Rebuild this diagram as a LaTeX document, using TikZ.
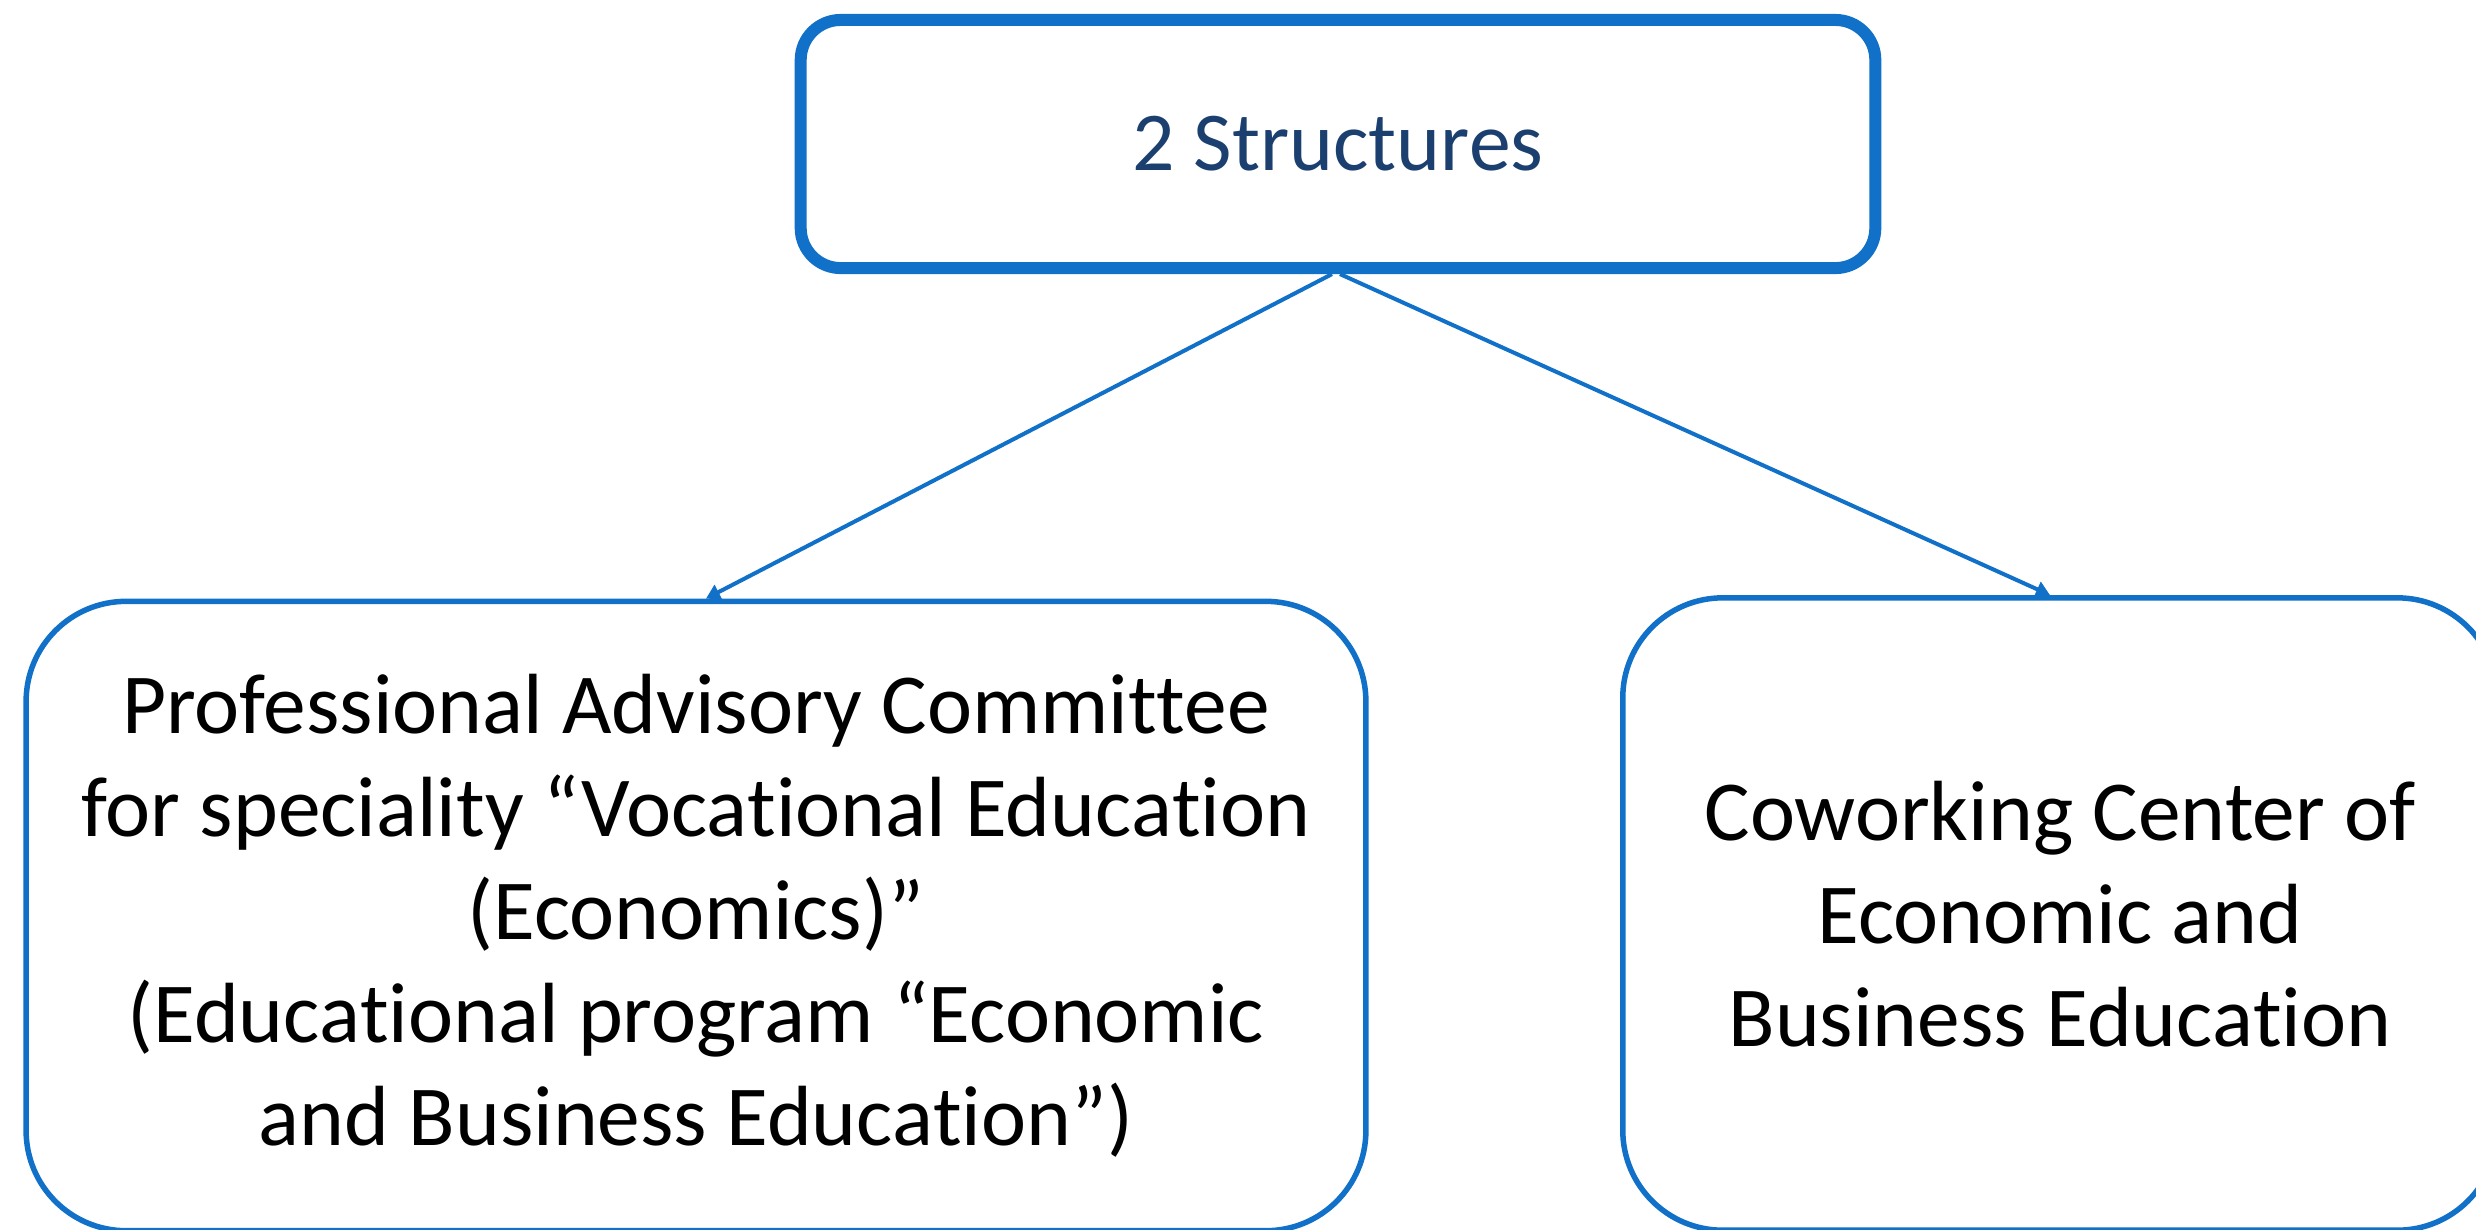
\documentclass[tikz,border=0pt]{standalone}
\usepackage{fontspec}
\setmainfont{Carlito}[Ligatures={NoCommon,NoContextual}]
\usetikzlibrary{arrows.meta,calc}
\definecolor{boxblue}{RGB}{17,112,199}
\definecolor{navy}{RGB}{27,64,111}
\newcommand\nolig{\kern0pt{}}
\tikzset{
  topbox/.style={draw=boxblue, line width=0.12cm, rounded corners=0.4cm, rectangle,
    minimum width=10.74cm, minimum height=2.48cm, inner sep=0pt, text=navy,
    font={\fontsize{23.8}{29}\selectfont}},
  subbox/.style={draw=boxblue, line width=0.055cm, rounded corners=1.0cm, rectangle,
    inner sep=0pt, align=center, text=black,
    font={\fontsize{24.3}{29.3}\selectfont}},
  link/.style={draw=boxblue, line width=0.04cm, -{Triangle[width=0.16cm,length=0.14cm]}}
}
\begin{document}
\begin{tikzpicture}[x=0.01cm, y=-0.01cm]
\useasboundingbox (0,0) rectangle (2476,1229);
\node[topbox] (top) at (1338,144) {2 Structures};
\node[subbox, minimum width=13.39cm, minimum height=6.29cm] (left) at (696,916)
  {Professional Advisory Commit\nolig tee\\for speciality “Voca\nolig t\nolig ional Educa\nolig t\nolig ion\\(Economics)”\\(Educa\nolig t\nolig ional program “Economic\\and Business Educa\nolig t\nolig ion”)};
\node[subbox, minimum width=8.74cm, minimum height=6.32cm] (right) at (2060,914)
  {Coworking Center of\\Economic and\\Business Educa\nolig t\nolig ion};
\draw[link] ($(top.south)+(-6,0)$) -- ($(left.north)+(10,0)$);
\draw[link] ($(top.south)+(2,0)$) -- ($(right.north)+(-10,0)$);
\end{tikzpicture}
\end{document}
